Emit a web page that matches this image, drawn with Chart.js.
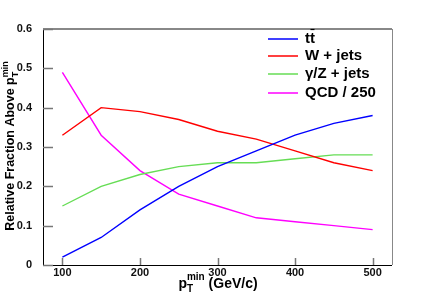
<!DOCTYPE html>
<html>
<head>
<meta charset="utf-8">
<script src="https://cdn.jsdelivr.net/npm/chart.js@4"></script>
<style>
  html, body { margin: 0; padding: 0; background: #fff; }
  #wrap { width: 436px; height: 295px; }
</style>
</head>
<body>
<div id="wrap"><canvas id="chart" width="436" height="295"></canvas></div>
<script>
// data
const ptMin = [100, 150, 200, 250, 300, 350, 400, 450, 500];
const ttbar = [0.02, 0.07, 0.14, 0.20, 0.25, 0.29, 0.33, 0.36, 0.38];
const wJets = [0.33, 0.40, 0.39, 0.37, 0.34, 0.32, 0.29, 0.26, 0.24];
const zJets = [0.15, 0.20, 0.23, 0.25, 0.26, 0.26, 0.27, 0.28, 0.28];
const qcd = [0.49, 0.33, 0.24, 0.18, 0.15, 0.12, 0.11, 0.10, 0.09];
const xTicks = [100, 200, 300, 400, 500];
const yTicks = [0, 0.1, 0.2, 0.3, 0.4, 0.5, 0.6];
const seriesLabels = ["tt", "W + jets", "\u03b3/Z + jets", "QCD / 250"];

const FONT = "'Liberation Sans', Arial, sans-serif";

function pts(vals) {
  return vals.map((v, i) => ({ x: ptMin[i], y: v }));
}

// text like p_T^min: main part, then sub and sup stacked, then the rest
function ptText(ctx, before, after, size, x, y) {
  const small = Math.round(size * 0.7);
  ctx.font = "bold " + size + "px " + FONT;
  const wb = ctx.measureText(before).width;
  const wa = ctx.measureText(after).width;
  ctx.font = "bold " + small + "px " + FONT;
  const ws = Math.max(ctx.measureText("T").width, ctx.measureText("min").width);
  let cx = x - (wb + ws + wa) / 2;
  ctx.font = "bold " + size + "px " + FONT;
  ctx.fillText(before, cx, y);
  cx += wb;
  ctx.font = "bold " + small + "px " + FONT;
  ctx.fillText("T", cx, y + size * 0.4);
  ctx.fillText("min", cx, y - size * 0.45);
  cx += ws;
  ctx.font = "bold " + size + "px " + FONT;
  ctx.fillText(after, cx, y);
}

const decor = {
  id: "decor",
  afterDraw(chart) {
    const ctx = chart.ctx;
    const a = chart.chartArea;
    const xs = chart.scales.x;
    const ys = chart.scales.y;
    ctx.save();

    // frame
    ctx.strokeStyle = "#888";
    ctx.lineWidth = 2;
    ctx.beginPath();
    ctx.moveTo(a.left, a.top);
    ctx.lineTo(a.right, a.top);
    ctx.stroke();
    ctx.lineWidth = 1;
    ctx.beginPath();
    ctx.moveTo(a.right + 0.5, a.top);
    ctx.lineTo(a.right + 0.5, a.bottom);
    ctx.stroke();
    ctx.strokeStyle = "#000";
    ctx.beginPath();
    ctx.moveTo(a.left + 0.5, a.top);
    ctx.lineTo(a.left + 0.5, a.bottom + 0.5);
    ctx.lineTo(a.right, a.bottom + 0.5);
    ctx.stroke();

    // inward ticks
    ctx.strokeStyle = "#777";
    ctx.lineWidth = 1.5;
    xTicks.forEach((v) => {
      const px = Math.round(xs.getPixelForValue(v)) + 0.5;
      ctx.beginPath();
      ctx.moveTo(px, a.bottom);
      ctx.lineTo(px, a.bottom - 7);
      ctx.stroke();
    });
    yTicks.forEach((v) => {
      const py = Math.round(ys.getPixelForValue(v)) + 0.5;
      ctx.beginPath();
      ctx.moveTo(a.left, py);
      ctx.lineTo(a.left + 10, py);
      ctx.stroke();
    });

    // axis titles
    ctx.fillStyle = "#000";
    ctx.textBaseline = "middle";
    ctx.textAlign = "left";
    ptText(ctx, "p", " (GeV/c)", 14, 218, 284);

    ctx.save();
    ctx.translate(11, 146);
    ctx.rotate(-Math.PI / 2);
    ptText(ctx, "Relative Fraction Above p", "", 12.5, 0, 0);
    ctx.restore();

    // legend
    const rowY = [39, 56, 74, 93];
    chart.data.datasets.forEach((ds, i) => {
      const y = rowY[i];
      ctx.strokeStyle = ds.borderColor;
      ctx.lineWidth = 1.5;
      ctx.beginPath();
      ctx.moveTo(268, y);
      ctx.lineTo(298, y);
      ctx.stroke();
      ctx.fillStyle = "#000";
      ctx.font = "bold 15px " + FONT;
      ctx.fillText(ds.label, 305, y);
      if (i === 0) {
        const w1 = ctx.measureText("t").width;
        const w2 = ctx.measureText("tt").width;
        ctx.strokeStyle = "#000";
        ctx.lineWidth = 1.2;
        ctx.beginPath();
        ctx.moveTo(305 + w1 + 0.5, y - 9.5);
        ctx.lineTo(305 + w2 - 0.5, y - 9.5);
        ctx.stroke();
      }
    });
    ctx.restore();
  },
};

function line(label, vals, color) {
  return {
    label: label,
    data: pts(vals),
    borderColor: color,
    borderWidth: 1.4,
    pointRadius: 0,
    tension: 0,
    fill: false,
  };
}

new Chart(document.getElementById("chart"), {
  type: "line",
  data: {
    datasets: [
      line(seriesLabels[0], ttbar, "#0000ff"),
      line(seriesLabels[1], wJets, "#ff0000"),
      line(seriesLabels[2], zJets, "#66dd55"),
      line(seriesLabels[3], qcd, "#ff00ff"),
    ],
  },
  options: {
    responsive: false,
    animation: false,
    layout: { padding: { left: 0, top: 29, right: 44, bottom: 0 } },
    plugins: { legend: { display: false }, tooltip: { enabled: false } },
    scales: {
      x: {
        type: "linear",
        min: 75,
        max: 525,
        afterBuildTicks: (s) => { s.ticks = xTicks.map((v) => ({ value: v })); },
        afterFit: (s) => { s.height = 30; },
        grid: { display: false },
        border: { display: false },
        ticks: {
          padding: -7,
          color: "#111",
          font: { family: FONT, size: 11, weight: "bold" },
          maxRotation: 0,
        },
      },
      y: {
        min: 0,
        max: 0.6,
        afterBuildTicks: (s) => { s.ticks = yTicks.map((v) => ({ value: v })); },
        afterFit: (s) => { s.width = 43; },
        grid: { display: false },
        border: { display: false },
        ticks: {
          padding: 3,
          color: "#111",
          font: { family: FONT, size: 11, weight: "bold" },
          callback: (v) => (v === 0 ? "0" : v.toFixed(1)),
        },
      },
    },
  },
  plugins: [decor],
});
</script>
</body>
</html>
